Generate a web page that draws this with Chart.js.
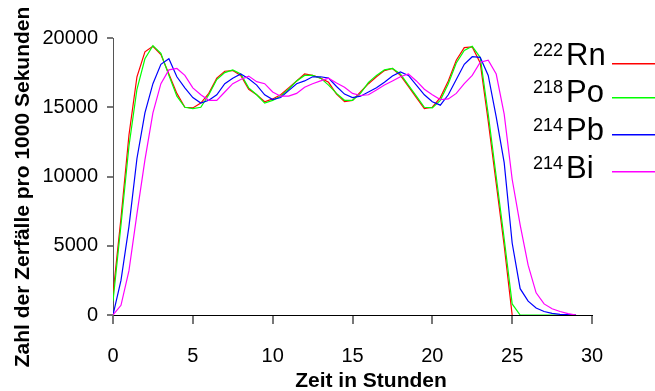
<!DOCTYPE html>
<html>
<head>
<meta charset="utf-8">
<script src="https://cdn.jsdelivr.net/npm/chart.js@4.4.0/dist/chart.umd.min.js"></script>
<style>
  html, body { margin: 0; padding: 0; background: #fff; }
  #chart { display: block; }
</style>
</head>
<body>
<canvas id="chart" width="655" height="391"></canvas>
<script>
// time in hours (0.5 h steps)
const hours = [0, 0.5, 1, 1.5, 2, 2.5, 3, 3.5, 4, 4.5, 5, 5.5, 6, 6.5, 7, 7.5, 8, 8.5, 9, 9.5,
    10, 10.5, 11, 11.5, 12, 12.5, 13, 13.5, 14, 14.5, 15, 15.5, 16, 16.5, 17, 17.5, 18, 18.5, 19, 19.5,
    20, 20.5, 21, 21.5, 22, 22.5, 23, 23.5, 24, 24.5, 25, 25.5, 26, 26.5, 27, 27.5, 28, 28.5, 29];

// decays per 1000 s
const rn222 = [1500, 7000, 13000, 17200, 19000, 19400, 18800, 17400, 16000, 15000, 14950, 15300, 16000, 17100,
    17600, 17650, 17300, 16300, 15900, 15400, 15600, 15900, 16400, 16900, 17400, 17300, 17100, 16800, 15950,
    15400, 15500, 16100, 16700, 17200, 17650, 17800, 17300, 16500, 15700, 14900, 15000, 15700, 16900, 18400,
    19300, 19350, 18200, 14000, 9500, 5000, 0];
const po218 = [1000, 6500, 12200, 16300, 18500, 19450, 18900, 17300, 15800, 15000, 14900, 15000, 15900, 17000,
    17500, 17700, 17400, 16400, 15900, 15300, 15500, 15800, 16300, 16900, 17300, 17300, 17100, 16600, 16000,
    15500, 15500, 16000, 16800, 17300, 17700, 17800, 17400, 16600, 15800, 15000, 14950, 15500, 16700, 18200,
    19100, 19400, 18600, 14500, 10000, 5500, 800, 0, 0, 0, 0, 0, 0, 0, 0];
const pb214 = [0, 2500, 6400, 11300, 14600, 16700, 18100, 18500, 17200, 16400, 15700, 15300, 15500, 15900,
    16700, 17100, 17400, 17050, 16600, 15900, 15550, 15700, 16200, 16700, 16900, 17200, 17200, 17100, 16500,
    15950, 15700, 15800, 16100, 16400, 16800, 17250, 17550, 17300, 16600, 15900, 15400, 15150, 15900, 17000,
    18100, 18650, 18600, 17300, 14300, 11000, 5200, 1900, 1000, 500, 250, 120, 50, 20, 0];
const bi214 = [0, 700, 3200, 7300, 11200, 14600, 16700, 17700, 17800, 17300, 16400, 15900, 15500, 15500,
    16100, 16700, 17000, 17250, 16850, 16700, 16100, 15800, 15800, 16000, 16450, 16700, 16900, 17100, 16750,
    16450, 16000, 15850, 15900, 16250, 16600, 16900, 17200, 17400, 16900, 16300, 15900, 15550, 15600, 16000,
    16700, 17300, 18250, 18400, 17400, 14500, 9800, 6500, 3600, 1600, 800, 450, 250, 100, 0];

const xTicks = [0, 5, 10, 15, 20, 25, 30];
const yTicks = [0, 5000, 10000, 15000, 20000];

const isotopes = [
    { mass: '222', name: 'Rn', color: '#ff0000', values: rn222 },
    { mass: '218', name: 'Po', color: '#00ff00', values: po218 },
    { mass: '214', name: 'Pb', color: '#0000ff', values: pb214 },
    { mass: '214', name: 'Bi', color: '#ff00ff', values: bi214 }
];

const FONT = "'Liberation Sans', Arial, sans-serif";

// titles and the legend (superscript mass numbers) are drawn by hand
const labelsPlugin = {
    id: 'labels',
    afterDraw(chart) {
        const ctx = chart.ctx;
        ctx.save();
        ctx.fillStyle = '#000';
        ctx.font = 'bold 21px ' + FONT;
        ctx.textAlign = 'center';
        ctx.textBaseline = 'alphabetic';
        ctx.fillText('Zeit in Stunden', 371, 387);

        ctx.save();
        ctx.translate(29, 187);
        ctx.rotate(-Math.PI / 2);
        ctx.fillText('Zahl der Zerfälle pro 1000 Sekunden', 0, 0);
        ctx.restore();

        const baselines = [65, 102, 140, 178];
        const lineY = [63, 97, 134, 171];
        ctx.textAlign = 'left';
        isotopes.forEach((iso, i) => {
            ctx.fillStyle = '#000';
            ctx.font = '18px ' + FONT;
            ctx.fillText(iso.mass, 533, baselines[i] - 9);
            ctx.font = '31px ' + FONT;
            ctx.fillText(iso.name, 566, baselines[i]);
            ctx.fillStyle = iso.color;
            ctx.fillRect(612, lineY[i], 43, 1.5);
        });
        ctx.restore();
    }
};

const ctx = document.getElementById('chart').getContext('2d');
new Chart(ctx, {
    type: 'line',
    data: {
        datasets: isotopes.map((iso, i) => ({
            label: iso.mass + iso.name,
            data: iso.values.map((v, j) => ({ x: hours[j], y: v })),
            borderColor: iso.color,
            borderWidth: 1.2,
            pointRadius: 0,
            tension: 0,
            fill: false,
            order: isotopes.length - i
        }))
    },
    options: {
        responsive: false,
        animation: false,
        layout: { padding: { left: 0, top: 38, right: 63, bottom: 0 } },
        plugins: {
            legend: { display: false },
            tooltip: { enabled: false }
        },
        scales: {
            x: {
                type: 'linear',
                min: 0,
                max: 30,
                afterBuildTicks: axis => { axis.ticks = xTicks.map(v => ({ value: v })); },
                afterFit: axis => { axis.height = 76; },
                grid: { drawOnChartArea: false, drawTicks: true, tickLength: 9, color: '#777', lineWidth: 2 },
                border: { display: true, color: '#000', width: 1 },
                ticks: { color: '#000', font: { family: FONT, size: 20 }, padding: 20, maxRotation: 0,
                    callback: v => String(v) }
            },
            y: {
                min: 0,
                max: 20000,
                afterBuildTicks: axis => { axis.ticks = yTicks.map(v => ({ value: v })); },
                afterFit: axis => { axis.width = 113; },
                grid: { drawOnChartArea: false, drawTicks: true, tickLength: 6, color: '#777', lineWidth: 2 },
                border: { display: true, color: '#555', width: 1 },
                ticks: { color: '#000', font: { family: FONT, size: 20 }, padding: 9,
                    callback: v => String(v) }
            }
        }
    },
    plugins: [labelsPlugin]
});
</script>
</body>
</html>
